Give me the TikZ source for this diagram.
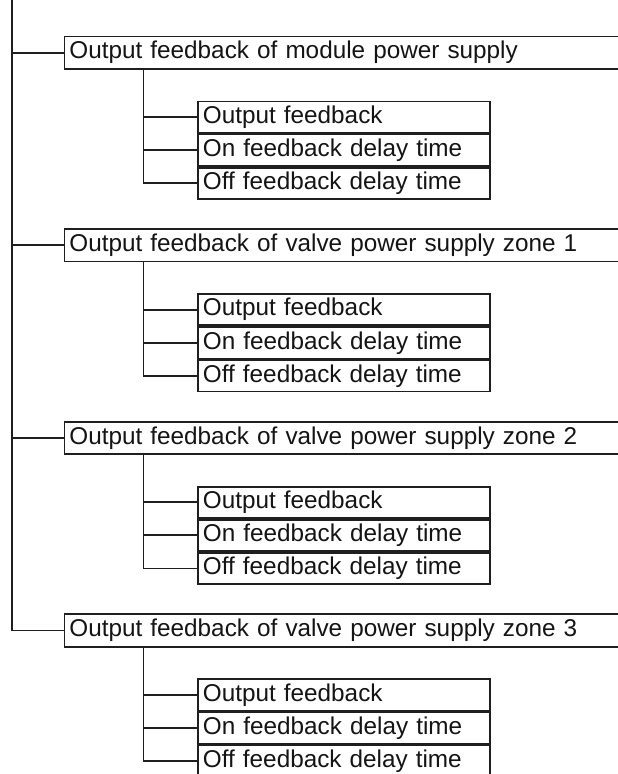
\documentclass[tikz,border=0pt]{standalone}
\usepackage{fontspec}
\setmainfont{Liberation Sans}
\begin{document}
\begin{tikzpicture}[x=1pt,y=1pt,
  ln/.style={line width=1.8pt, draw=black!88},
  mainbox/.style={ln, rectangle, anchor=north west, minimum width=600pt, minimum height=32.5pt,
    inner xsep=5pt, inner ysep=0pt, text width=590pt, align=left,
    font=\fontsize{24.3pt}{27pt}\selectfont, text=black!92},
  subbox/.style={ln, rectangle, anchor=north west, minimum width=292pt, minimum height=31.3pt,
    inner xsep=5pt, inner ysep=0pt, text width=282pt, align=left,
    font=\fontsize{24.3pt}{27pt}\selectfont, text=black!92}]
\useasboundingbox (0,0) rectangle (618,-774);
\clip (0,0) rectangle (618,-774);
\fill[white] (0,0) rectangle (618,-774);
\foreach \i/\t in {1/{Output feedback of module power supply},
                   2/{Output feedback of valve power supply zone 1},
                   3/{Output feedback of valve power supply zone 2},
                   4/{Output feedback of valve power supply zone 3}}{
  \pgfmathsetmacro{\T}{35.5+192.6*(\i-1)}
  \node[mainbox] (m\i) at (63.5,-\T) {\t};
  \node[subbox] (s\i a) at (197,-\T-65) {Output feedback};
  \node[subbox] (s\i b) at (s\i a.south west) {On feedback delay time};
  \node[subbox] (s\i c) at (s\i b.south west) {Off feedback delay time};
  \coordinate (v\i) at ([xshift=80pt]m\i.south west);
  \draw[ln] (v\i) |- (s\i c.west);
  \draw[ln] (v\i |- s\i a.west) -- (s\i a.west);
  \draw[ln] (v\i |- s\i b.west) -- (s\i b.west);
}
\coordinate (top) at (12,0);
\draw[ln] (top) |- (m4.west);
\foreach \i in {1,2,3}{
  \draw[ln] (top |- m\i.west) -- (m\i.west);
}
\end{tikzpicture}
\end{document}
